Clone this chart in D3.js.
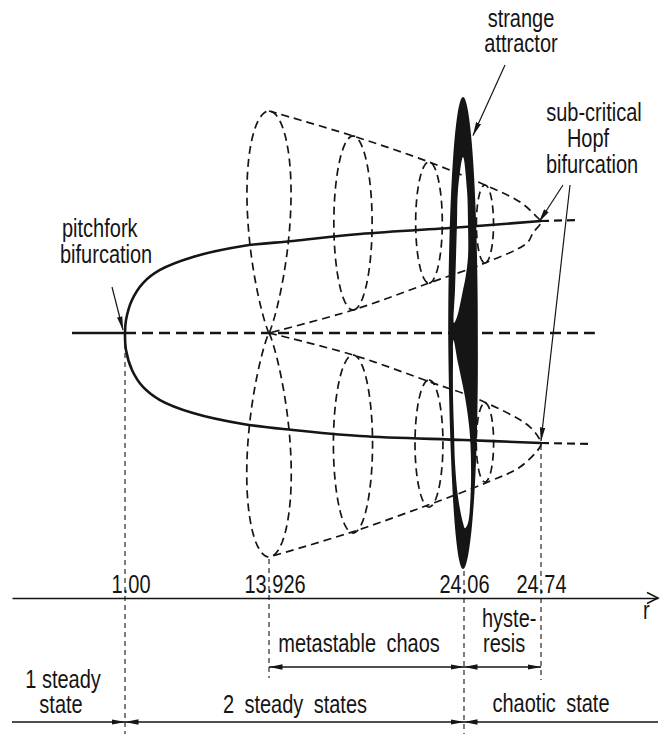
<!DOCTYPE html>
<html>
<head>
<meta charset="utf-8">
<script src="https://cdn.jsdelivr.net/npm/d3@7"></script>
<style>
  html, body { margin: 0; padding: 0; background: #fff; }
  svg { display: block; }
  text { font-family: "Liberation Sans", Arial, sans-serif; font-size: 25px; fill: #151515; }
</style>
</head>
<body>
<div id="chart"></div>
<script>
// marked values of the control parameter r
const rTicks = [1.00, 13.926, 24.06, 24.74];
const tickLabels = ["1.00", "13.926", "24.06", "24.74"];

// stable fixed points C+ / C- (z scaled so the Hopf point is ~1)
const branchR     = [1.00, 1.09, 1.628, 2.616, 4.142, 7.104, 11.593, 15.173, 18.655, 24.06, 24.74];
const branchUpper = [0, 0.117, 0.297, 0.450, 0.568, 0.685, 0.784, 0.829, 0.892, 0.955, 1.009];
const branchLower = [0, -0.153, -0.333, -0.486, -0.604, -0.721, -0.820, -0.874, -0.928, -0.964, -0.991];

// unstable periodic orbits (dashed loops)
const cycleR           = [13.926, 18.29, 22.24, 24.245];
const cycleUpperTop    = [2.0, 1.775, 1.541, 1.333];
const cycleUpperBottom = [0, 0.207, 0.450, 0.631];
const cycleLowerTop    = [0, -0.198, -0.423, -0.631];
const cycleLowerBottom = [-2.018, -1.802, -1.568, -1.342];

// envelopes of the unstable orbits, closing at the sub-critical Hopf point
const envUpperR = [13.926, 18.29, 22.24, 24.245, 24.555, 24.713, 24.74, 24.669, 24.616, 24.245, 22.24, 18.29, 13.926];
const envUpperZ = [2.0, 1.775, 1.541, 1.333, 1.180, 1.036, 1.0, 0.901, 0.811, 0.631, 0.450, 0.207, 0];
const envLowerR = [13.926, 18.29, 22.29, 24.201, 24.643, 24.74, 24.731, 24.555, 24.272, 22.19, 18.24, 13.926];
const envLowerZ = [0, -0.198, -0.441, -0.604, -0.847, -0.991, -1.027, -1.207, -1.342, -1.550, -1.793, -2.018];

// origin (stable, then unstable) and unstable continuations past the Hopf point
const originStableR = [0.531, 1.00];
const originUnstableR = [1.00, 25.32];
const contUpper = [[24.74, 1.009], [25.16, 1.018]];
const contLower = [[24.74, -0.991], [25.30, -1.0]];

// strange attractor at r = 24.06
const attractorR = 24.06;
const attractorZ = [-2.126, 2.126];

// regimes below the axis
const bandTopLabels = ["metastable  chaos", "hysteresis"];
const bandTopFrom = [13.926, 24.06];
const bandTopTo = [24.06, 24.74];
const bandLowLabels = ["1 steady state", "2  steady states", "chaotic  state"];
const bandLowFrom = [0, 1.00, 24.06];
const bandLowTo = [1.00, 24.06, 26];

const W = 662, H = 734;
const ink = "#151515";
const narrow = 0.8;   // lettering is a condensed face

const x = d3.scaleLinear()
    .domain([0, 1.00, 13.926, 24.06, 24.74, 26])
    .range([12, 125, 269, 464, 541, 658]);

const y = d3.scaleLinear()
    .domain([-1, 1])
    .range([444, 222]);

const axisY = 598;

const svg = d3.select("#chart")
    .append("svg")
    .attr("width", W)
    .attr("height", H)
    .attr("viewBox", `0 0 ${W} ${H}`);

svg.append("rect").attr("width", W).attr("height", H).attr("fill", "#fff");

const defs = svg.append("defs");
defs.append("marker")
    .attr("id", "head")
    .attr("markerUnits", "userSpaceOnUse")
    .attr("viewBox", "0 0 14 6")
    .attr("markerWidth", 14)
    .attr("markerHeight", 6)
    .attr("refX", 13.5)
    .attr("refY", 3)
    .attr("orient", "auto-start-reverse")
  .append("path")
    .attr("d", "M0,0.3 L14,3 L0,5.7 Z")
    .attr("fill", ink);

const line = d3.line()
    .x(d => x(d[0]))
    .y(d => y(d[1]));

const smooth = d3.line()
    .x(d => x(d[0]))
    .y(d => y(d[1]))
    .curve(d3.curveCatmullRom.alpha(0.5));

// dashed loops: the first pair touch the origin, so they are pinched there
function loopPath(r, zA, zB) {
    const pinch = zA === 0;
    const cx = x(r), y0 = y(zA), y1 = y(zB);
    const rx = 0.22 * Math.abs(y1 - y0) / 2 * (pinch ? 1.1 : 1);
    const pts = d3.range(72).map(i => {
        const t = i / 72 * 2 * Math.PI;
        const u = (1 - Math.cos(t)) / 2;
        const taper = pinch ? Math.pow(u, 0.35) : 1;
        return [cx + rx * Math.sin(t) * taper, y0 + (y1 - y0) * u];
    });
    return d3.line().curve(d3.curveLinearClosed)(pts);
}

const orbits = svg.append("g")
    .attr("fill", "none")
    .attr("stroke", ink)
    .attr("stroke-width", 1.7)
    .attr("stroke-dasharray", "8 5");

orbits.selectAll("path.up")
    .data(cycleR)
    .join("path")
    .attr("class", "up")
    .attr("d", (r, i) => loopPath(r, cycleUpperBottom[i], cycleUpperTop[i]));

orbits.selectAll("path.down")
    .data(cycleR)
    .join("path")
    .attr("class", "down")
    .attr("d", (r, i) => loopPath(r, cycleLowerTop[i], cycleLowerBottom[i]));

orbits.append("path").attr("d", smooth(envUpperR.map((r, i) => [r, envUpperZ[i]])));
orbits.append("path").attr("d", smooth(envLowerR.map((r, i) => [r, envLowerZ[i]])));

// unstable origin and continuations
svg.append("path")
    .attr("d", line(originUnstableR.map(r => [r, 0])))
    .attr("fill", "none").attr("stroke", ink)
    .attr("stroke-width", 2.4).attr("stroke-dasharray", "11 6");

[contUpper, contLower].forEach(c => {
    svg.append("path")
        .attr("d", line(c))
        .attr("fill", "none").attr("stroke", ink)
        .attr("stroke-width", 2.2).attr("stroke-dasharray", "8 5");
});

// stable branches
svg.append("path")
    .attr("d", line(originStableR.map(r => [r, 0])))
    .attr("stroke", ink).attr("stroke-width", 2.6);

const branchPts = branchR.map((r, i) => [r, branchUpper[i]]).reverse()
    .concat(branchR.slice(1).map((r, i) => [r, branchLower[i + 1]]));

svg.append("path")
    .attr("d", smooth(branchPts))
    .attr("fill", "none").attr("stroke", ink).attr("stroke-width", 2.6);

// strange attractor: thick ring with two slits
{
    const cx = x(attractorR) - 1;
    const yT = y(attractorZ[1]), yB = y(attractorZ[0]);
    const cy = (yT + yB) / 2, ry = (yB - yT) / 2, rx = 14.8;
    const outer = d3.range(90).map(i => {
        const t = i / 90 * 2 * Math.PI;
        const lean = Math.cos(t) < 0 ? 1.5 * Math.pow(Math.sin(t), 2) * -Math.cos(t) : 0;
        return [cx + rx * Math.sin(t) + lean, cy - ry * Math.cos(t)];
    });
    const upSlit = [[0, 1.586], [4, 1.288], [5, 0.991], [5, 0.685], [2.5, 0.5], [0, 0.387], [-6, 0.144],
        [-9, 0.09], [-8, 0.387], [-7, 0.685], [-6, 0.991], [-5, 1.288]];
    const lowSlit = [[-9.5, -0.063], [-5, -0.27], [2, -0.577], [6.5, -0.874], [8, -1.171], [7.5, -1.477], [5, -1.712],
        [2, -1.76], [0, -1.712], [-5, -1.477], [-8, -1.171], [-9, -0.874], [-10, -0.577], [-10, -0.27]];
    const slit = d3.line().x(d => cx + d[0]).y(d => y(d[1])).curve(d3.curveCatmullRomClosed.alpha(0.5));
    svg.append("path")
        .attr("d", d3.line().curve(d3.curveLinearClosed)(outer) + slit(upSlit) + slit(lowSlit))
        .attr("fill", ink)
        .attr("fill-rule", "evenodd");
}

// r axis
const axis = d3.axisTop(x)
    .tickValues(rTicks)
    .tickSize(0)
    .tickSizeOuter(0)
    .tickPadding(5)
    .tickFormat((d, i) => tickLabels[i]);

const gAxis = svg.append("g")
    .attr("transform", `translate(0,${axisY})`)
    .call(axis);

gAxis.select(".domain").attr("stroke", ink).attr("stroke-width", 1.5);
gAxis.selectAll("text")
    .attr("text-anchor", "start")
    .attr("transform", `scale(${narrow},1)`)
    .each(function () {
        const s = this.textContent, k = s.indexOf(".");
        const before = this.getSubStringLength(0, k);
        const dot = this.getSubStringLength(k, 1);
        d3.select(this).attr("dx", -(before + dot / 2));
    });

svg.append("path")
    .attr("d", `M${x(26) - 11},${axisY - 5.5} L${x(26)},${axisY} L${x(26) - 11},${axisY + 5.5}`)
    .attr("fill", "none").attr("stroke", ink).attr("stroke-width", 1.5);

// guide lines down from the transitions
const guideFromZ = [0, cycleLowerBottom[0], attractorZ[0], branchLower[branchLower.length - 1]];
const guideToY = [H, 678, H, 680];
svg.append("g")
    .selectAll("line")
    .data(rTicks)
    .join("line")
    .attr("x1", d => x(d)).attr("x2", d => x(d))
    .attr("y1", (d, i) => y(guideFromZ[i]) + 2)
    .attr("y2", (d, i) => guideToY[i])
    .attr("stroke", ink)
    .attr("stroke-width", 1.1)
    .attr("stroke-dasharray", "5 4");

// regime arrows
function band(from, to, yy, open) {
    svg.append("line")
        .attr("x1", x(from)).attr("x2", x(to))
        .attr("y1", yy).attr("y2", yy)
        .attr("stroke", ink).attr("stroke-width", 1.3)
        .attr("marker-start", open === "start" ? null : "url(#head)")
        .attr("marker-end", open === "end" ? null : "url(#head)");
}
bandTopFrom.forEach((f, i) => band(f, bandTopTo[i], 667));
band(bandLowFrom[0], bandLowTo[0], 722, "start");
band(bandLowFrom[1], bandLowTo[1], 722);
band(bandLowFrom[2], bandLowTo[2], 722, "end");

const labels = svg.append("g");
function label(txt, lx, ly, anchor) {
    labels.append("text")
        .attr("transform", `translate(${lx},${ly}) scale(${narrow},1)`)
        .attr("text-anchor", anchor || "middle")
        .attr("word-spacing", txt.includes("  ") ? 6 : null)
        .text(txt.replace("  ", " "));
}
label("r", 643, 619, "start");
label(bandTopLabels[0], 359, 652);
label("hyste-", 482, 627, "start");
label("resis", 483, 652, "start");
label("1 steady", 63, 688);
label("state", 61, 713);
label(bandLowLabels[1], 295, 713);
label(bandLowLabels[2], 551, 712);

label("pitchfork", 62, 237, "start");
label("bifurcation", 60, 263, "start");
label("strange", 521, 27);
label("attractor", 521, 52);
label("sub-critical", 594, 121);
label("Hopf", 588, 147);
label("bifurcation", 592, 173);

// leaders
function leader(x1, y1, x2, y2) {
    svg.append("line")
        .attr("x1", x1).attr("y1", y1).attr("x2", x2).attr("y2", y2)
        .attr("stroke", ink).attr("stroke-width", 1.2)
        .attr("marker-end", "url(#head)");
}
leader(112, 287, x(1.00) - 2, y(0) - 3);
leader(505, 65, x(attractorR) + 9, y(1.78));
leader(563, 185, x(24.74) - 2, y(branchUpper[branchUpper.length - 1]) + 1);
leader(570, 185, x(24.74), y(branchLower[branchLower.length - 1]) - 2);
</script>
</body>
</html>
